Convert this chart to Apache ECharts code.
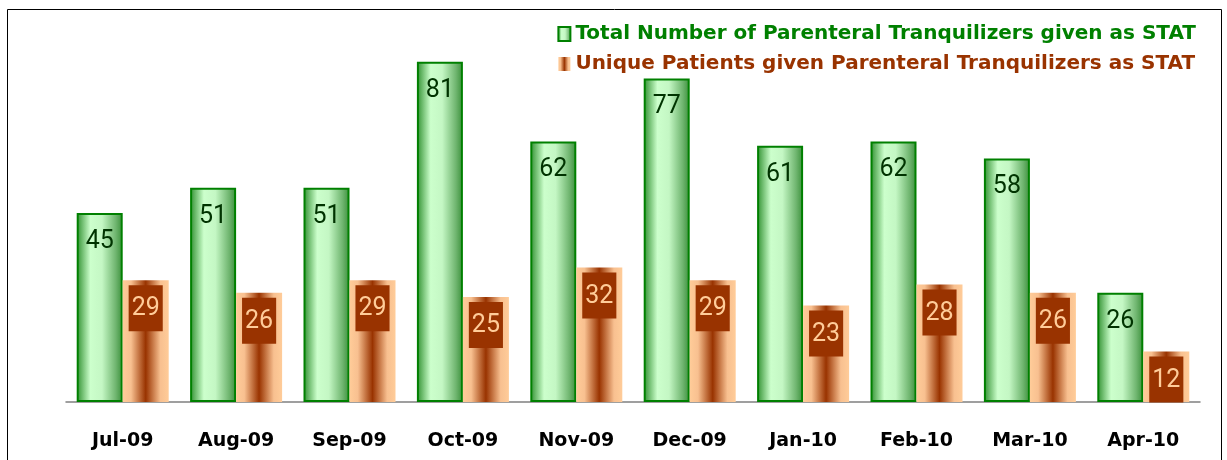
<!DOCTYPE html>
<html>
<head>
<meta charset="utf-8">
<script src="https://cdn.jsdelivr.net/npm/echarts@6/dist/echarts.min.js"></script>
<style>
  html, body { margin: 0; padding: 0; background: #fff; }
  #chart { width: 1227px; height: 460px; }
</style>
</head>
<body>
<div id="chart"></div>
<script>
  const months = ["Jul-09", "Aug-09", "Sep-09", "Oct-09", "Nov-09", "Dec-09", "Jan-10", "Feb-10", "Mar-10", "Apr-10"];
  const totalGiven = [45, 51, 51, 81, 62, 77, 61, 62, 58, 26];
  const uniquePatients = [29, 26, 29, 25, 32, 29, 23, 28, 26, 12];
  const seriesNames = [
    "Total Number of Parenteral Tranquilizers given as STAT",
    "Unique Patients given Parenteral Tranquilizers as STAT",
  ];

  const wide = "'DejaVu Sans', sans-serif";
  const digits = "Roboto, 'Liberation Sans', sans-serif";

  const greenFill = new echarts.graphic.LinearGradient(0, 0, 1, 0, [
    { offset: 0, color: "#2f8f2f" },
    { offset: 0.3, color: "#ccffcc" },
    { offset: 0.55, color: "#c4f7c4" },
    { offset: 0.85, color: "#6fb56f" },
    { offset: 1, color: "#3a8f3a" },
  ]);
  const orangeFill = new echarts.graphic.LinearGradient(0, 0, 1, 0, [
    { offset: 0, color: "#ffcc99" },
    { offset: 0.18, color: "#f8c090" },
    { offset: 0.5, color: "#993300" },
    { offset: 0.82, color: "#f8c090" },
    { offset: 1, color: "#ffcc99" },
  ]);

  const chart = echarts.init(document.getElementById("chart"));
  chart.setOption({
    animation: false,
    graphic: [
      {
        type: "rect",
        shape: { x: 7.5, y: 9.5, width: 1214, height: 470 },
        style: { fill: "none", stroke: "#000", lineWidth: 1 },
        silent: true,
        z: -1,
      },
    ],
    legend: {
      orient: "vertical",
      right: 26,
      top: 19,
      icon: "rect",
      itemWidth: 12,
      itemHeight: 14,
      itemGap: 10,
      textStyle: { fontSize: 20, fontWeight: "bold", fontFamily: wide },
      data: [
        { name: seriesNames[0], textStyle: { color: "#008000" } },
        { name: seriesNames[1], textStyle: { color: "#993300" } },
      ],
    },
    grid: {
      top: 24,
      left: 66,
      right: 27,
      bottom: 58,
    },
    xAxis: {
      type: "category",
      data: months,
      axisLine: { lineStyle: { color: "#808080", width: 1.5 } },
      axisTick: { show: false },
      axisLabel: {
        margin: 30,
        color: "#000",
        fontSize: 19,
        fontWeight: "bold",
        fontFamily: wide,
      },
    },
    yAxis: {
      type: "value",
      min: 0,
      max: 90,
      show: false,
      splitLine: { show: false },
    },
    series: [
      {
        name: seriesNames[0],
        type: "bar",
        data: totalGiven,
        barWidth: 46,
        barGap: "0%",
        itemStyle: { color: greenFill, borderColor: "#008000", borderWidth: 2 },
        label: {
          show: true,
          position: "insideTop",
          distance: 16,
          color: "#003300",
          fontSize: 25,
          fontFamily: digits,
        },
      },
      {
        name: seriesNames[1],
        type: "bar",
        data: uniquePatients,
        barWidth: 46,
        itemStyle: { color: orangeFill },
        label: {
          show: true,
          position: "insideTop",
          distance: 5,
          color: "#ffcc99",
          backgroundColor: "#993300",
          padding: [10, 3, 8, 3],
          fontSize: 25,
          lineHeight: 28,
          fontFamily: digits,
        },
      },
    ],
  });
</script>
</body>
</html>
